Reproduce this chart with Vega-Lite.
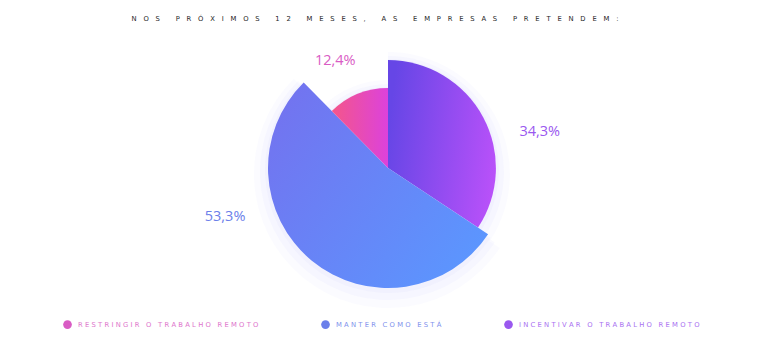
{
  "$schema": "https://vega.github.io/schema/vega-lite/v6.json",
  "width": 776,
  "height": 276,
  "autosize": "none",
  "padding": {"left": 0, "top": 30, "right": 0, "bottom": 46},
  "background": "white",
  "config": {"view": {"stroke": null}},
  "title": {
    "text": "N\u2003O\u2003S\u2003 \u2003P\u2003R\u2003Ó\u2003X\u2003I\u2003M\u2003O\u2003S\u2003 \u20031\u20032\u2003 \u2003M\u2003E\u2003S\u2003E\u2003S\u2003,\u2003 \u2003A\u2003S\u2003 \u2003E\u2003M\u2003P\u2003R\u2003E\u2003S\u2003A\u2003S\u2003 \u2003P\u2003R\u2003E\u2003T\u2003E\u2003N\u2003D\u2003E\u2003M\u2003:",
    "orient": "top",
    "anchor": "middle",
    "baseline": "alphabetic",
    "offset": 10.5,
    "dy": 43,
    "dx": -13,
    "font": "DejaVu Sans",
    "fontSize": 6.8,
    "fontWeight": "normal",
    "color": "#262626"
  },
  "data": {
    "values": [
      {"categoria": "Restringir o trabalho remoto", "valor": 12.4, "texto": "12,4%", "ordem": 3},
      {"categoria": "Manter como está", "valor": 53.3, "texto": "53,3%", "ordem": 2},
      {"categoria": "Incentivar o trabalho remoto", "valor": 34.3, "texto": "34,3%", "ordem": 1}
    ]
  },
  "transform": [
    {"stack": "valor", "groupby": [], "sort": [{"field": "ordem"}], "as": ["v0", "v1"]}
  ],
  "layer": [
    {
      "mark": {"type": "arc", "fill": "#6a6af0", "opacity": 0.025, "radiusOffset": 14, "yOffset": 6},
      "encoding": {
        "theta": {"field": "v0", "type": "quantitative", "scale": {"domain": [0, 100]}},
        "theta2": {"field": "v1"},
        "radius": {"field": "valor", "type": "quantitative", "scale": {"type": "log", "domain": [12.4, 53.3], "range": [80, 120], "nice": false}},
        "radius2": {"value": 0}
      }
    },
    {
      "mark": {"type": "arc", "fill": "#6a6af0", "opacity": 0.03, "radiusOffset": 8, "yOffset": 4},
      "encoding": {
        "theta": {"field": "v0", "type": "quantitative", "scale": {"domain": [0, 100]}},
        "theta2": {"field": "v1"},
        "radius": {"field": "valor", "type": "quantitative", "scale": {"type": "log", "domain": [12.4, 53.3], "range": [80, 120], "nice": false}},
        "radius2": {"value": 0}
      }
    },
    {
      "mark": {"type": "arc", "fill": "#6a6af0", "opacity": 0.035, "radiusOffset": 3, "yOffset": 2},
      "encoding": {
        "theta": {"field": "v0", "type": "quantitative", "scale": {"domain": [0, 100]}},
        "theta2": {"field": "v1"},
        "radius": {"field": "valor", "type": "quantitative", "scale": {"type": "log", "domain": [12.4, 53.3], "range": [80, 120], "nice": false}},
        "radius2": {"value": 0}
      }
    },
    {
      "transform": [{"filter": "datum.ordem == 1"}],
      "mark": {
        "type": "arc",
        "fill": {"gradient": "linear", "x1": 0, "y1": 0.4, "x2": 1, "y2": 0.6,
          "stops": [{"offset": 0, "color": "#6646e6"}, {"offset": 1, "color": "#b851f9"}]}
      },
      "encoding": {
        "theta": {"field": "v0", "type": "quantitative", "scale": {"domain": [0, 100]}},
        "theta2": {"field": "v1"},
        "radius": {"field": "valor", "type": "quantitative", "scale": {"type": "log", "domain": [12.4, 53.3], "range": [80, 120], "nice": false}},
        "radius2": {"value": 0}
      }
    },
    {
      "transform": [{"filter": "datum.ordem == 2"}],
      "mark": {
        "type": "arc",
        "fill": {"gradient": "linear", "x1": 0, "y1": 0.2, "x2": 1, "y2": 0.9,
          "stops": [{"offset": 0, "color": "#7274f0"}, {"offset": 1, "color": "#5a98ff"}]}
      },
      "encoding": {
        "theta": {"field": "v0", "type": "quantitative", "scale": {"domain": [0, 100]}},
        "theta2": {"field": "v1"},
        "radius": {"field": "valor", "type": "quantitative", "scale": {"type": "log", "domain": [12.4, 53.3], "range": [80, 120], "nice": false}},
        "radius2": {"value": 0}
      }
    },
    {
      "transform": [{"filter": "datum.ordem == 3"}],
      "mark": {
        "type": "arc",
        "fill": {"gradient": "linear", "x1": 0, "y1": 0.5, "x2": 1, "y2": 0.5,
          "stops": [{"offset": 0, "color": "#f4568a"}, {"offset": 1, "color": "#dc42dc"}]}
      },
      "encoding": {
        "theta": {"field": "v0", "type": "quantitative", "scale": {"domain": [0, 100]}},
        "theta2": {"field": "v1"},
        "radius": {"field": "valor", "type": "quantitative", "scale": {"type": "log", "domain": [12.4, 53.3], "range": [80, 120], "nice": false}},
        "radius2": {"value": 0}
      }
    },
    {
      "mark": {"type": "text", "radius": 156, "font": "Open Sans", "fontSize": 14.5, "fontWeight": 500, "align": "center", "baseline": "middle"},
      "encoding": {
        "theta": {"field": "valor", "type": "quantitative", "stack": true, "bandPosition": 0.621, "scale": {"domain": [0, 100]}},
        "order": {"field": "ordem", "type": "quantitative"},
        "text": {"condition": {"test": "datum.ordem == 1", "field": "texto"}, "value": ""},
        "color": {"field": "categoria", "type": "nominal"}
      }
    },
    {
      "mark": {"type": "text", "radius": 170, "font": "Open Sans", "fontSize": 14.5, "fontWeight": 500, "align": "center", "baseline": "middle"},
      "encoding": {
        "theta": {"field": "valor", "type": "quantitative", "stack": true, "bandPosition": 0.677, "scale": {"domain": [0, 100]}},
        "order": {"field": "ordem", "type": "quantitative"},
        "text": {"condition": {"test": "datum.ordem == 2", "field": "texto"}, "value": ""},
        "color": {"field": "categoria", "type": "nominal"}
      }
    },
    {
      "mark": {"type": "text", "radius": 119, "font": "Open Sans", "fontSize": 14.5, "fontWeight": 500, "align": "center", "baseline": "middle"},
      "encoding": {
        "theta": {"field": "valor", "type": "quantitative", "stack": true, "bandPosition": 0.41, "scale": {"domain": [0, 100]}},
        "order": {"field": "ordem", "type": "quantitative"},
        "text": {"condition": {"test": "datum.ordem == 3", "field": "texto"}, "value": ""},
        "color": {
          "field": "categoria",
          "type": "nominal",
          "scale": {
            "domain": ["Restringir o trabalho remoto", "Manter como está", "Incentivar o trabalho remoto"],
            "range": ["#d95cc4", "#6b80ea", "#9a58ef"]
          },
          "legend": {
            "title": null,
            "orient": "none",
            "legendX": 63,
            "legendY": 290,
            "direction": "horizontal",
            "symbolType": "circle",
            "symbolSize": 75,
            "symbolOpacity": 1,
            "symbolStrokeWidth": 0,
            "labelFont": "DejaVu Sans",
            "labelFontSize": 6.8,
            "labelOffset": 6,
            "columnPadding": 62,
            "labelLimit": 400,
            "labelExpr": "join(split(upper(datum.label), ''), '\u2004')",
            "encode": {
              "symbols": {"update": {"fill": {"scale": "color", "field": "value"}, "opacity": {"value": 1}}},
              "labels": {"update": {"fill": {"scale": "color", "field": "value"}, "opacity": {"value": 0.85}}}
            }
          }
        }
      }
    }
  ]
}
